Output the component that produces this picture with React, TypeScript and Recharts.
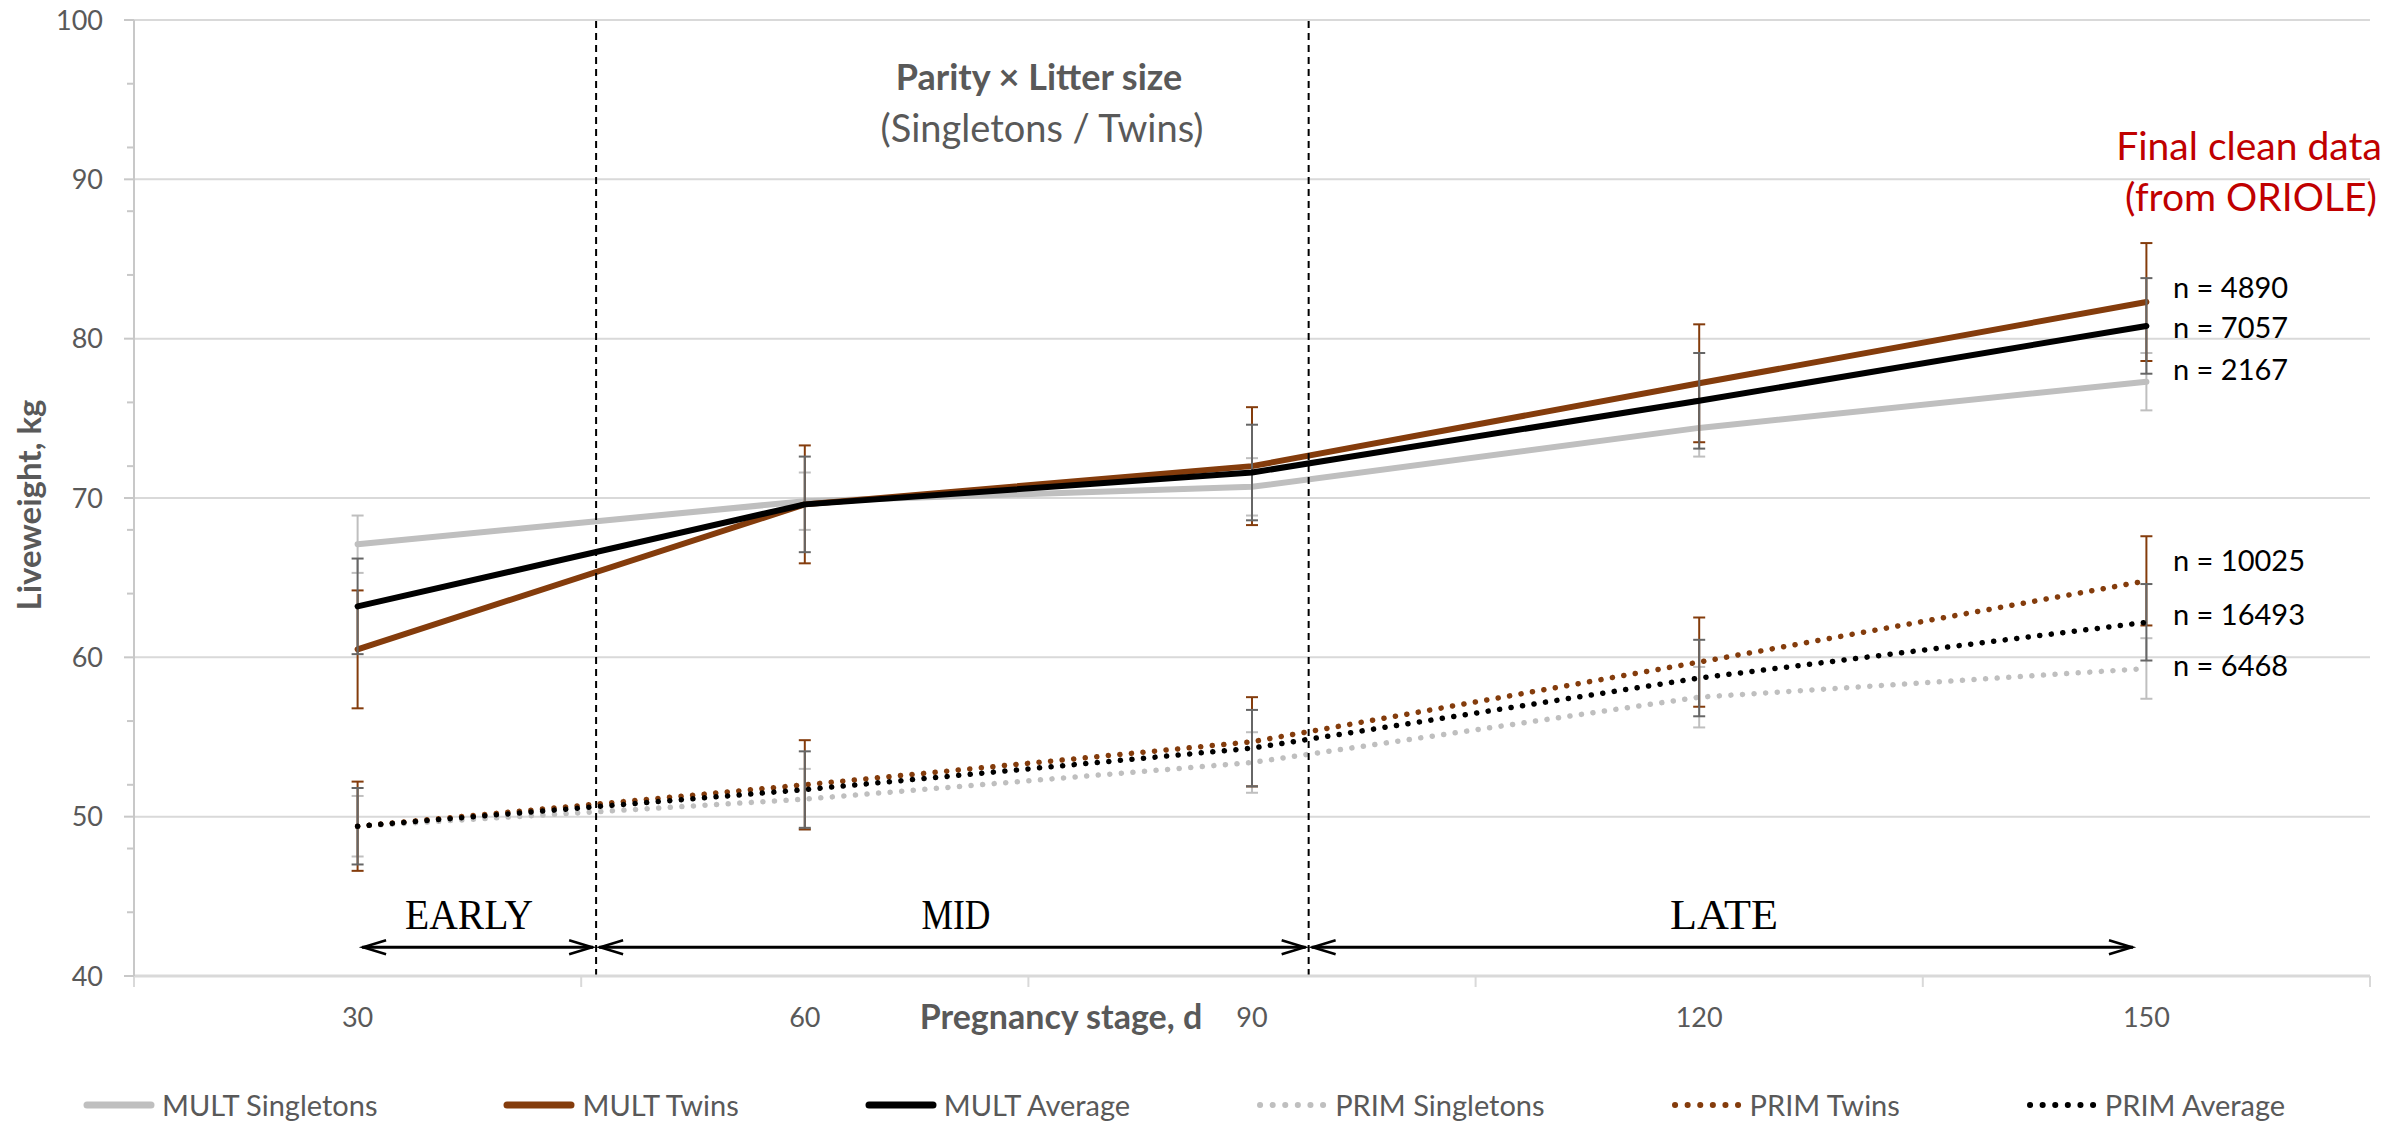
import React from "react";
import {
  LineChart,
  Line,
  XAxis,
  YAxis,
  CartesianGrid,
  ErrorBar,
  ReferenceLine,
} from "recharts";

// pregnancy stage (d)
const days = [30, 60, 90, 120, 150];

// liveweight means, kg
const multSingletons = [67.1, 69.8, 70.7, 74.4, 77.3];
const multTwins = [60.5, 69.6, 72.0, 77.2, 82.3];
const multAverage = [63.2, 69.6, 71.6, 76.1, 80.8];
const primSingletons = [49.4, 51.1, 53.4, 57.5, 59.3];
const primTwins = [49.4, 52.0, 54.7, 59.7, 64.8];
const primAverage = [49.4, 51.7, 54.3, 58.7, 62.2];

// error bar half-ranges, kg
const multSingletonsErr = [1.8, 1.8, 1.8, 1.8, 1.8];
const multTwinsErr = [3.7, 3.7, 3.7, 3.7, 3.7];
const multAverageErr = [3.0, 3.0, 3.0, 3.0, 3.0];
const primSingletonsErr = [1.9, 1.9, 1.9, 1.9, 1.9];
const primTwinsErr = [2.8, 2.8, 2.8, 2.8, 2.8];
const primAverageErr = [2.4, 2.4, 2.4, 2.4, 2.4];

const xTicks = [15, 30, 45, 60, 75, 90, 105, 120, 135, 150, 165];
const yTicks = [40, 44, 48, 50, 52, 56, 60, 64, 68, 70, 72, 76, 80, 84, 88, 90, 92, 96, 100];
const gridValues = [50, 60, 70, 80, 90, 100];

const sampleSizes = [
  { label: "n = 4890", y: 298 },
  { label: "n = 7057", y: 338 },
  { label: "n = 2167", y: 380 },
  { label: "n = 10025", y: 571 },
  { label: "n = 16493", y: 625 },
  { label: "n = 6468", y: 676 },
];

const GRAY = "#BFBFBF";
const BROWN = "#843C0C";
const BLACK = "#000000";
const ERR_DARK = "#666666";
const TEXT = "#595959";
const FONT = "Lato, 'Open Sans', sans-serif";

const series = [
  { key: "multSingletons", name: "MULT Singletons", color: GRAY, err: GRAY, dotted: false },
  { key: "multTwins", name: "MULT Twins", color: BROWN, err: BROWN, dotted: false },
  { key: "multAverage", name: "MULT Average", color: BLACK, err: ERR_DARK, dotted: false },
  { key: "primSingletons", name: "PRIM Singletons", color: GRAY, err: GRAY, dotted: true },
  { key: "primTwins", name: "PRIM Twins", color: BROWN, err: BROWN, dotted: true },
  { key: "primAverage", name: "PRIM Average", color: BLACK, err: ERR_DARK, dotted: true },
];

const data = days.map((day, i) => ({
  day,
  multSingletons: multSingletons[i],
  multTwins: multTwins[i],
  multAverage: multAverage[i],
  primSingletons: primSingletons[i],
  primTwins: primTwins[i],
  primAverage: primAverage[i],
  multSingletonsErr: multSingletonsErr[i],
  multTwinsErr: multTwinsErr[i],
  multAverageErr: multAverageErr[i],
  primSingletonsErr: primSingletonsErr[i],
  primTwinsErr: primTwinsErr[i],
  primAverageErr: primAverageErr[i],
}));

const YTick = (props: any) => {
  const { x, y, payload } = props;
  const major = payload.value % 10 === 0;
  return (
    <g>
      <line x1={x - (major ? 10 : 7)} x2={x} y1={y} y2={y} stroke="#C8C8C8" strokeWidth={2} />
      {major && (
        <text x={x - 31} y={y} dy={9.5} textAnchor="end" fill={TEXT} fontSize={27} fontFamily={FONT}>
          {payload.value}
        </text>
      )}
    </g>
  );
};

const XTick = (props: any) => {
  const { x, y, payload } = props;
  const v = payload.value;
  if ((v - 15) % 30 === 0) {
    return <line x1={x} x2={x} y1={y} y2={y + 11} stroke="#D9D9D9" strokeWidth={2} />;
  }
  return (
    <text x={x} y={y + 51} textAnchor="middle" fill={TEXT} fontSize={27} fontFamily={FONT}>
      {v}
    </text>
  );
};

// double-headed arrow for the EARLY / MID / LATE spans
const SpanArrow = (props: any) => {
  const { x1, y1, x2, y2 } = props;
  const L = 24;
  const H = 7;
  return (
    <g>
      <line x1={x1} y1={y1} x2={x2} y2={y2} stroke="#000" strokeWidth={3} />
      <path d={`M${x1 + L},${y1 - H} L${x1 + 1},${y1} L${x1 + L},${y1 + H}`} fill="none" stroke="#000" strokeWidth={2.5} />
      <path d={`M${x2 - L},${y2 - H} L${x2 - 1},${y2} L${x2 - L},${y2 + H}`} fill="none" stroke="#000" strokeWidth={2.5} />
    </g>
  );
};

const LegendSample = ({ color, dotted }: { color: string; dotted: boolean }) => (
  <svg width={72} height={12} style={{ marginRight: 7, display: "block" }}>
    {dotted ? (
      <line x1={4} x2={68} y1={6} y2={6} stroke={color} strokeWidth={6} strokeLinecap="round" strokeDasharray="0.1 12.5" />
    ) : (
      <line x1={4} x2={68} y1={6} y2={6} stroke={color} strokeWidth={7} strokeLinecap="round" />
    )}
  </svg>
);

// the chart fills the whole 2397 x 1130 page (cancel the body margin)
const W = 2397;
const H = 1130;

export default function App() {
  return (
    <div style={{ position: "relative", width: W, height: H, margin: -8, overflow: "hidden", fontFamily: FONT }}>
      <LineChart width={W} height={H} data={data} margin={{ top: 20, right: 27, bottom: 0, left: 0 }}>
        <CartesianGrid vertical={false} horizontalValues={gridValues} stroke="#D9D9D9" strokeWidth={2} />
        <XAxis
          dataKey="day"
          type="number"
          domain={[15, 165]}
          ticks={xTicks}
          interval={0}
          tick={<XTick />}
          tickLine={false}
          tickSize={0}
          tickMargin={0}
          height={154}
          axisLine={{ stroke: "#D9D9D9", strokeWidth: 3 }}
        />
        <YAxis
          type="number"
          domain={[40, 100]}
          ticks={yTicks}
          interval={0}
          tick={<YTick />}
          tickLine={false}
          tickSize={0}
          tickMargin={0}
          width={134}
          axisLine={{ stroke: "#C8C8C8", strokeWidth: 2 }}
        />
        {series.map((s) => (
          <Line
            key={s.key}
            type="linear"
            dataKey={s.key}
            name={s.name}
            stroke={s.color}
            strokeWidth={s.dotted ? 5.5 : 6}
            strokeDasharray={s.dotted ? "0.1 11.5" : undefined}
            strokeLinecap="round"
            strokeLinejoin="round"
            dot={false}
            activeDot={false}
            isAnimationActive={false}
          >
            <ErrorBar dataKey={`${s.key}Err`} width={6} stroke={s.err} strokeWidth={2} isAnimationActive={false} />
          </Line>
        ))}
        <ReferenceLine x={46} stroke="#000" strokeWidth={2} strokeDasharray="7 5" />
        <ReferenceLine x={93.8} stroke="#000" strokeWidth={2} strokeDasharray="7 5" />
        <ReferenceLine segment={[{ x: 30.3, y: 41.8 }, { x: 45.8, y: 41.8 }]} shape={SpanArrow} />
        <ReferenceLine segment={[{ x: 46.2, y: 41.8 }, { x: 93.6, y: 41.8 }]} shape={SpanArrow} />
        <ReferenceLine segment={[{ x: 94.0, y: 41.8 }, { x: 149.1, y: 41.8 }]} shape={SpanArrow} />
      </LineChart>

      <div
        style={{
          position: "absolute",
          left: 0,
          top: 1090,
          height: 30,
          display: "flex",
          alignItems: "center",
          paddingLeft: 83,
          gap: 126,
          fontSize: 29,
          lineHeight: "30px",
          color: TEXT,
          whiteSpace: "nowrap",
        }}
      >
        {series.map((s) => (
          <div key={s.key} style={{ display: "flex", alignItems: "center" }}>
            <LegendSample color={s.color} dotted={s.dotted} />
            <span>{s.name}</span>
          </div>
        ))}
      </div>

      <svg
        width={W}
        height={H}
        style={{ position: "absolute", left: 0, top: 0, pointerEvents: "none" }}
        fontFamily={FONT}
      >
        <text
          x={28}
          y={505}
          transform="rotate(-90, 28, 505)"
          textAnchor="middle"
          dominantBaseline="central"
          fontWeight="bold"
          fontSize={33}
          fill={TEXT}
        >
          Liveweight, kg
        </text>
        <text x={1061} y={1029} textAnchor="middle" fontWeight="bold" fontSize={34} fill={TEXT}>
          Pregnancy stage, d
        </text>
        <text x={1039} y={90} textAnchor="middle" fontWeight="bold" fontSize={36} fill={TEXT}>
          Parity × Litter size
        </text>
        <text x={1042} y={142} textAnchor="middle" fontSize={38} fill={TEXT}>
          (Singletons / Twins)
        </text>
        <text x={2249} y={160} textAnchor="middle" fontSize={39} fill="#C00000">
          Final clean data
        </text>
        <text x={2251} y={211} textAnchor="middle" fontSize={39} fill="#C00000">
          (from ORIOLE)
        </text>
        {sampleSizes.map((n) => (
          <text key={n.label} x={2173} y={n.y} fontSize={29} fill="#000">
            {n.label}
          </text>
        ))}
        <g fontFamily="'Liberation Serif', 'DejaVu Serif', serif" fontSize={42} fill="#000">
          <text x={469} y={929} textAnchor="middle" textLength={128} lengthAdjust="spacingAndGlyphs">
            EARLY
          </text>
          <text x={956} y={929} textAnchor="middle" textLength={69} lengthAdjust="spacingAndGlyphs">
            MID
          </text>
          <text x={1724} y={929} textAnchor="middle" textLength={108} lengthAdjust="spacingAndGlyphs">
            LATE
          </text>
        </g>
      </svg>
    </div>
  );
}
